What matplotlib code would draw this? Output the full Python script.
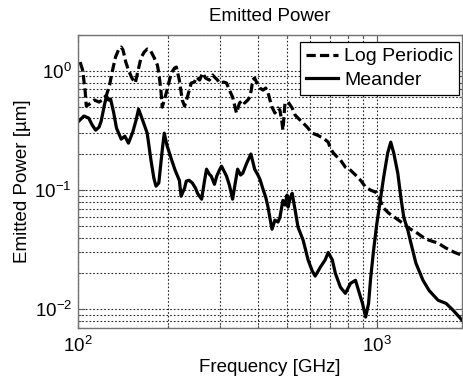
import matplotlib
matplotlib.use("Agg")
import matplotlib.pyplot as plt
from matplotlib.ticker import LogLocator, LogFormatterMathtext, NullFormatter

plt.rcParams['font.family'] = ['Liberation Sans', 'DejaVu Sans']
plt.rcParams['mathtext.fontset'] = 'custom'
plt.rcParams['mathtext.rm'] = 'Liberation Sans'
plt.rcParams['mathtext.it'] = 'Liberation Sans:italic'

# Log-periodic antenna: frequency [GHz] and emitted power
lp_freq = [102, 104, 106, 107, 111, 114, 118, 121, 125, 128, 131, 134, 137, 140,
           142, 145, 148, 152, 156, 159, 163, 167, 171, 175, 180, 185, 187, 190,
           192, 195, 198, 203, 206, 211, 214, 219, 224, 228, 233, 240, 246, 250,
           256, 262, 268, 276, 283, 287, 294, 298, 308, 315, 322, 330, 335, 340,
           348, 357, 362, 371, 377, 382, 385, 391, 401, 407, 417, 426, 433, 440,
           447, 457, 468, 475, 483, 486, 494, 506, 522, 534, 546, 564, 586, 609,
           633, 663, 689, 700, 717, 739, 757, 786, 818, 850, 884, 919, 955, 992,
           1015, 1048, 1098, 1159, 1223, 1282, 1353, 1429, 1497, 1605, 1707, 1817,
           1930]
lp_power = [1.19, 1.02, 0.69, 0.508, 0.539, 0.571, 0.549, 0.571, 0.629, 0.763,
            1.02, 1.31, 1.50, 1.59, 1.50, 1.19, 1.02, 0.873, 0.793, 0.981, 1.29,
            1.44, 1.53, 1.50, 1.31, 1.12, 0.962, 0.692, 0.498, 0.571, 0.653, 0.840,
            0.962, 1.06, 1.08, 0.840, 0.571, 0.508, 0.605, 0.793, 0.808, 0.890,
            0.840, 0.962, 0.873, 0.840, 0.926, 0.890, 0.840, 0.793, 0.808, 0.793,
            0.692, 0.605, 0.518, 0.444, 0.539, 0.571, 0.539, 0.571, 0.605, 0.720,
            0.840, 0.873, 0.763, 0.720, 0.692, 0.720, 0.666, 0.571, 0.498, 0.444,
            0.489, 0.470, 0.366, 0.319, 0.539, 0.549, 0.489, 0.427, 0.403, 0.373,
            0.338, 0.301, 0.290, 0.2735, 0.253, 0.2254, 0.205, 0.1894, 0.179,
            0.1561, 0.147, 0.134, 0.121, 0.106, 0.100, 0.0962, 0.0908, 0.0720,
            0.0641, 0.0582, 0.0528, 0.0479, 0.0444, 0.0403, 0.0380, 0.0359, 0.0326,
            0.0301, 0.0284]

# Meander antenna: frequency [GHz] and emitted power
md_freq = [101, 105, 109, 112, 115, 118, 120, 123, 125, 127, 129, 132, 135, 140,
           144, 148, 153, 157, 160, 165, 171, 176, 180, 183, 187, 192, 195, 199,
           206, 212, 219, 222, 228, 231, 236, 242, 248, 252, 260, 266, 270, 276,
           280, 287, 292, 298, 303, 310, 315, 322, 330, 338, 343, 351, 357, 368,
           380, 391, 401, 407, 417, 426, 433, 440, 447, 457, 468, 475, 486, 494,
           502, 506, 514, 522, 534, 546, 568, 590, 609, 623, 638, 648, 673, 689,
           711, 728, 757, 786, 818, 850, 870, 897, 919, 940, 955, 977, 1000, 1023,
           1056, 1089, 1115, 1141, 1177, 1205, 1233, 1272, 1302, 1353, 1429, 1497,
           1605, 1707, 1803, 1889, 1930]
md_power = [0.380, 0.419, 0.403, 0.352, 0.319, 0.338, 0.380, 0.518, 0.617, 0.571,
            0.582, 0.452, 0.332, 0.268, 0.284, 0.248, 0.307, 0.388, 0.479, 0.388,
            0.301, 0.179, 0.126, 0.108, 0.115, 0.217, 0.301, 0.239, 0.182, 0.147,
            0.121, 0.089, 0.104, 0.119, 0.121, 0.115, 0.104, 0.094, 0.084, 0.121,
            0.150, 0.136, 0.131, 0.112, 0.131, 0.147, 0.159, 0.142, 0.131, 0.110,
            0.084, 0.121, 0.150, 0.134, 0.139, 0.169, 0.201, 0.150, 0.134, 0.124,
            0.102, 0.087, 0.073, 0.058, 0.047, 0.056, 0.054, 0.059, 0.082, 0.075,
            0.091, 0.072, 0.086, 0.094, 0.068, 0.049, 0.038, 0.026, 0.021, 0.019,
            0.021, 0.0225, 0.026, 0.030, 0.026, 0.020, 0.0153, 0.0136, 0.0165,
            0.0175, 0.0144, 0.0112, 0.0086, 0.0112, 0.0182, 0.0313, 0.0508, 0.0748,
            0.129, 0.205, 0.253, 0.205, 0.139, 0.087, 0.059, 0.046, 0.036, 0.0244,
            0.0175, 0.0144, 0.0119, 0.0112, 0.0098, 0.0086, 0.0081]

series_labels = ['Log Periodic', 'Meander']

FS = 13.5

fig = plt.figure(figsize=(4.63, 3.85), dpi=100)
ax = fig.add_axes([0.1674, 0.1488, 0.8305, 0.7598])

ax.plot(lp_freq, lp_power, color='black', lw=2.3, linestyle=(0, (2.9, 1.3)),
        label=series_labels[0], solid_joinstyle='round', dash_joinstyle='round')
ax.plot(md_freq, md_power, color='black', lw=2.3, linestyle='-',
        label=series_labels[1], solid_joinstyle='round')

ax.set_xscale('log')
ax.set_yscale('log')
ax.set_xlim(100, 1930)
ax.set_ylim(0.007, 2)

ax.xaxis.set_major_locator(LogLocator(base=10, numticks=10))
ax.yaxis.set_major_locator(LogLocator(base=10, numticks=10))
ax.xaxis.set_minor_locator(LogLocator(base=10, subs=range(2, 10), numticks=20))
ax.yaxis.set_minor_locator(LogLocator(base=10, subs=range(2, 10), numticks=20))
ax.xaxis.set_major_formatter(LogFormatterMathtext())
ax.yaxis.set_major_formatter(LogFormatterMathtext())
ax.xaxis.set_minor_formatter(NullFormatter())
ax.yaxis.set_minor_formatter(NullFormatter())

ax.grid(True, which='both', color='0.15', linestyle=(0, (1.5, 1.8)), lw=0.8)
ax.tick_params(which='both', direction='in', top=True, right=True,
               colors='0.35', labelcolor='black', labelsize=FS)
ax.tick_params(which='major', length=5, width=0.8)
ax.tick_params(which='minor', length=2.5, width=0.8)
ax.tick_params(axis='x', which='major', pad=6)
ax.tick_params(axis='y', which='major', pad=4)
for sp in ax.spines.values():
    sp.set_color('0.45')
    sp.set_linewidth(1.0)

ax.set_title('Emitted Power', fontsize=FS, pad=10)
ax.set_xlabel('Frequency [GHz]', fontsize=FS, labelpad=2)
ax.set_ylabel('Emitted Power [µm]', fontsize=FS)
ax.yaxis.set_label_coords(-0.12, 0.5)

leg = ax.legend(loc='upper right', bbox_to_anchor=(0.992, 0.977), borderaxespad=0,
                fancybox=False, edgecolor='black', framealpha=1, fontsize=14,
                handlelength=1.65, handletextpad=0.3, labelspacing=0.3,
                borderpad=0.3)
leg.get_frame().set_linewidth(0.9)

fig.savefig('out.png', dpi=100)
